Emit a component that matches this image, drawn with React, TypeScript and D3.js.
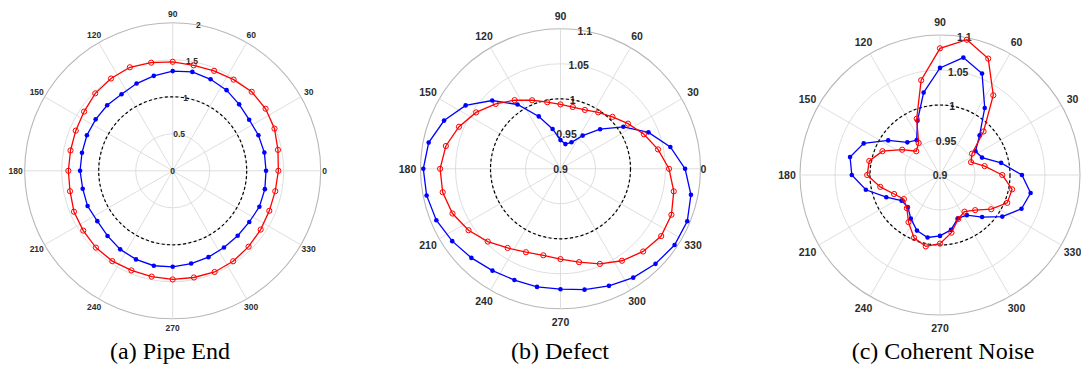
import React from "react";
import * as d3 from "d3";

// Angles (degrees, counter-clockwise from 0) of the 32 samples
const ANGLES = [
  0, 11.25, 22.5, 33.75, 45, 56.25, 67.5, 78.75, 90, 101.25, 112.5, 123.75,
  135, 146.25, 157.5, 168.75, 180, 191.25, 202.5, 213.75, 225, 236.25, 247.5,
  258.75, 270, 281.25, 292.5, 303.75, 315, 326.25, 337.5, 348.75,
];

// (a) Pipe End
const PIPE_BLUE = [
  1.261, 1.263, 1.254, 1.243, 1.27, 1.311, 1.338, 1.363, 1.347, 1.308, 1.276,
  1.245, 1.252, 1.252, 1.255, 1.25, 1.252, 1.24, 1.245, 1.225, 1.245, 1.277,
  1.296, 1.308, 1.297, 1.278, 1.263, 1.247, 1.242, 1.245, 1.268, 1.27,
];
const PIPE_RED = [
  1.428, 1.45, 1.489, 1.51, 1.51, 1.482, 1.462, 1.453, 1.473, 1.49, 1.514,
  1.5, 1.48, 1.44, 1.418, 1.408, 1.41, 1.415, 1.444, 1.454, 1.468, 1.468,
  1.457, 1.458, 1.468, 1.47, 1.48, 1.47, 1.45, 1.43, 1.413, 1.413,
];

// (b) Defect
const DEFECT_BLUE = [
  1.078, 1.06, 1.036, 1.008, 0.98, 0.957, 0.941, 0.936, 0.941, 0.958, 0.981,
  1.0105, 1.038, 1.063, 1.08, 1.092, 1.096, 1.095, 1.092, 1.086, 1.08, 1.075,
  1.072, 1.072, 1.072, 1.076, 1.081, 1.087, 1.092, 1.096, 1.096, 1.09,
];
const DEFECT_RED = [
  1.055, 1.042, 1.029, 1.016, 1.005, 0.997, 0.991, 0.99, 0.992, 0.997, 1.006,
  1.018, 1.031, 1.045, 1.057, 1.067, 1.072, 1.0716, 1.067, 1.058, 1.047,
  1.036, 1.029, 1.026, 1.029, 1.036, 1.047, 1.058, 1.067, 1.073, 1.0715, 1.065,
];

// (c) Coherent Noise
const NOISE_BLUE = [
  1.017, 0.989, 0.965, 0.961, 0.98, 1.015, 1.057, 1.071, 1.053, 1.02, 0.984,
  0.96, 0.966, 0.989, 1.018, 1.031, 1.026, 1.008, 0.983, 0.966, 0.965, 0.975,
  0.986, 0.991, 0.987, 0.98, 0.967, 0.969, 0.985, 1.007, 1.026, 1.032,
];
const NOISE_RED = [
  0.989, 0.965, 0.948, 0.955, 0.988, 1.037, 1.08, 1.097, 1.081, 1.038, 0.987,
  0.955, 0.948, 0.965, 0.989, 1.003, 1.004, 0.987, 0.971, 0.962, 0.967, 0.981,
  0.997, 1.004, 0.998, 0.984, 0.968, 0.963, 0.971, 0.988, 1.004, 1.005,
];

const THETA_TICKS = [0, 30, 60, 90, 120, 150, 180, 210, 240, 270, 300, 330];
const PIPE_R_TICKS = [0, 0.5, 1, 1.5, 2];
const ZOOM_R_TICKS = [0.9, 0.95, 1, 1.05, 1.1];
const CAPTIONS = ["(a) Pipe End", "(b) Defect", "(c) Coherent Noise"];

const WIDTH = 1081;
const HEIGHT = 365;

type PanelProps = {
  cx: number;
  cy: number;
  R: number;
  rTicks: number[];
  blue: number[];
  red: number[];
  fontSize: number;
  labelR: number;
  zeroShift: number;
  caption: string;
  captionX: number;
};

const toRad = (deg: number) => (deg * Math.PI) / 180;

function Panel(p: PanelProps) {
  const r = d3
    .scaleLinear()
    .domain([p.rTicks[0], p.rTicks[p.rTicks.length - 1]])
    .range([0, p.R]);
  // d3 radial angle: 0 at top, clockwise; data angle: 0 at right, CCW
  const line = d3
    .lineRadial<number>()
    .angle((_, i) => toRad(90 - ANGLES[i]))
    .radius((v) => r(v))
    .curve(d3.curveLinearClosed);
  const pt = (deg: number, v: number) => [
    p.cx + r(v) * Math.cos(toRad(deg)),
    p.cy - r(v) * Math.sin(toRad(deg)),
  ];
  const tickColor = "#2b2b2b";
  const labelAngle = 80;
  const thetaLabels = THETA_TICKS.map((a) => {
    const rr = p.labelR - (a === 0 ? p.zeroShift : 0);
    return {
      a,
      x: p.cx + rr * Math.cos(toRad(a)),
      y: p.cy - rr * Math.sin(toRad(a)),
    };
  }).filter((d) => d.x < WIDTH);
  return (
    <g>
      {/* rings */}
      {p.rTicks.slice(1).map((t, i) => (
        <circle
          key={"ring" + i}
          cx={p.cx}
          cy={p.cy}
          r={r(t)}
          fill="none"
          stroke={i === p.rTicks.length - 2 ? "#b8b8b8" : "#dadada"}
          strokeWidth={i === p.rTicks.length - 2 ? 1.1 : 0.9}
        />
      ))}
      {/* spokes */}
      {THETA_TICKS.map((a) => {
        const [x, y] = pt(a, p.rTicks[p.rTicks.length - 1]);
        return (
          <line
            key={"sp" + a}
            x1={p.cx}
            y1={p.cy}
            x2={x}
            y2={y}
            stroke="#dadada"
            strokeWidth={0.9}
          />
        );
      })}
      {/* theta labels */}
      {thetaLabels.map((d) => (
        <text
          key={"tl" + d.a}
          x={d.x}
          y={d.y}
          textAnchor="middle"
          dominantBaseline="central"
          fontFamily="'Liberation Sans', Arial, sans-serif"
          fontWeight="bold"
          fontSize={p.fontSize}
          fill={tickColor}
        >
          {d.a}
        </text>
      ))}
      {/* radial labels */}
      {p.rTicks.map((t) => {
        const [x, y] = pt(labelAngle, t);
        return (
          <text
            key={"rl" + t}
            x={x}
            y={y}
            textAnchor="middle"
            dominantBaseline="central"
            fontFamily="'Liberation Sans', Arial, sans-serif"
            fontWeight="bold"
            fontSize={p.fontSize}
            fill={tickColor}
          >
            {String(t)}
          </text>
        );
      })}
      {/* reference circle at 1 */}
      <circle
        cx={p.cx}
        cy={p.cy}
        r={r(1)}
        fill="none"
        stroke="#000"
        strokeWidth={1.2}
        strokeDasharray="3 2.4"
      />
      {/* blue series */}
      <path
        d={line(p.blue) || ""}
        transform={`translate(${p.cx},${p.cy})`}
        fill="none"
        stroke="#0000ff"
        strokeWidth={1.3}
      />
      {p.blue.map((v, i) => {
        const [x, y] = pt(ANGLES[i], v);
        return <circle key={"b" + i} cx={x} cy={y} r={2.3} fill="#0000ff" />;
      })}
      {/* red series */}
      <path
        d={line(p.red) || ""}
        transform={`translate(${p.cx},${p.cy})`}
        fill="none"
        stroke="#ff0000"
        strokeWidth={1.3}
      />
      {p.red.map((v, i) => {
        const [x, y] = pt(ANGLES[i], v);
        return (
          <circle
            key={"r" + i}
            cx={x}
            cy={y}
            r={2.6}
            fill="none"
            stroke="#ff0000"
            strokeWidth={1}
          />
        );
      })}
      <text
        x={p.captionX}
        y={359}
        textAnchor="middle"
        fontFamily="'Liberation Serif', 'Times New Roman', serif"
        fontSize={24}
        fill="#000"
      >
        {p.caption}
      </text>
    </g>
  );
}

export default function App() {
  return (
    <div style={{ position: "absolute", left: 0, top: 0 }}>
      <svg width={WIDTH} height={HEIGHT} style={{ display: "block", background: "#fff" }}>
        <Panel
          cx={172.7}
          cy={170.8}
          R={148}
          rTicks={PIPE_R_TICKS}
          blue={PIPE_BLUE}
          red={PIPE_RED}
          fontSize={8.5}
          labelR={157}
          zeroShift={5}
          caption={CAPTIONS[0]}
          captionX={170}
        />
        <Panel
          cx={560.5}
          cy={168.8}
          R={140}
          rTicks={ZOOM_R_TICKS}
          blue={DEFECT_BLUE}
          red={DEFECT_RED}
          fontSize={10.5}
          labelR={153}
          zeroShift={10}
          caption={CAPTIONS[1]}
          captionX={560}
        />
        <Panel
          cx={940}
          cy={175}
          R={140}
          rTicks={ZOOM_R_TICKS}
          blue={NOISE_BLUE}
          red={NOISE_RED}
          fontSize={10.5}
          labelR={153}
          zeroShift={0}
          caption={CAPTIONS[2]}
          captionX={943}
        />
      </svg>
    </div>
  );
}
